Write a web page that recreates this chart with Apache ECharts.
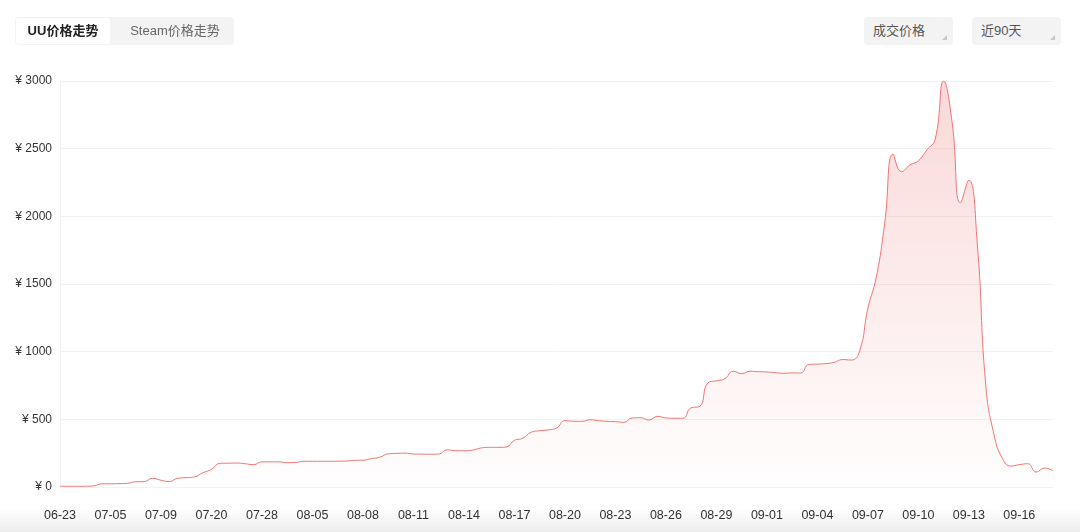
<!DOCTYPE html>
<html><head><meta charset="utf-8">
<script src="https://cdn.jsdelivr.net/npm/echarts@6/dist/echarts.min.js"></script>
<style>
html,body{margin:0;padding:0;background:#fff;width:1080px;height:532px;overflow:hidden;font-family:"Liberation Sans","Noto Sans CJK SC",sans-serif;}
#chart{position:absolute;left:0;top:0;width:1080px;height:532px;}
.tabs{position:absolute;left:15px;top:17px;width:219px;height:28px;background:#f3f3f4;border-radius:4px;}
.tab{position:absolute;top:1px;height:26px;line-height:26px;font-size:13px;text-align:center;}
.tab.on{left:1px;width:94px;background:#fff;border-radius:3px;color:#222;font-weight:bold;}
.tab.off{left:100px;width:120px;color:#666;}
.sel{position:absolute;top:17px;height:28px;line-height:28px;width:89px;background:#f3f3f4;border-radius:4px;font-size:13px;color:#555;box-sizing:border-box;padding-left:9px;}
.sel:after{content:"";position:absolute;right:6px;bottom:5px;width:0;height:0;border-left:5px solid transparent;border-bottom:5px solid #c8c8c8;}
.shade{position:absolute;left:0;top:508px;width:1080px;height:24px;background:linear-gradient(to bottom,rgba(0,0,0,0),rgba(0,0,0,0.07));pointer-events:none;}
</style></head>
<body>
<div id="chart"></div>
<div class="shade"></div>
<div class="tabs"><div class="tab on">UU价格走势</div><div class="tab off">Steam价格走势</div></div>
<div class="sel" style="left:864px">成交价格</div>
<div class="sel" style="left:972px">近90天</div>
<script>
// one entry per sampled day (labels shown every third day)
const dates = ["06-23","06-27","07-01","07-05","07-06","07-08","07-09","07-12","07-16","07-20",
"07-23","07-26","07-28","07-31","08-02","08-05","08-06","08-07","08-08","08-09",
"08-10","08-11","08-12","08-13","08-14","08-15","08-16","08-17","08-18","08-19",
"08-20","08-21","08-22","08-23","08-24","08-25","08-26","08-27","08-28","08-29",
"08-30","08-31","09-01","09-02","09-03","09-04","09-05","09-06","09-07","09-08",
"09-09","09-10","09-11","09-12","09-13","09-14","09-15","09-16","09-17","09-18"];
// price readings, two per day (00:00 and 12:00)
const prices = [5,5,5,6,8,24,24,25,27,39,
40,64,50,40,65,69,75,106,130,175,
176,177,172,165,186,186,186,180,182,190,
190,190,190,191,192,197,198,210,220,245,
248,250,244,243,242,243,275,268,268,272,
288,293,293,295,345,360,405,416,422,435,
490,486,485,497,490,485,483,478,510,512,
495,522,510,508,508,585,595,770,785,800,
855,838,855,852,850,845,840,843,842,906,
908,912,921,942,938,1000,1320,1550,1950,2460,
2330,2380,2410,2490,2570,3000,2700,2100,2268,1800,
760,385,210,155,165,172,110,140,120];
const yTicks = [0,500,1000,1500,2000,2500,3000];

const cats = [];
dates.forEach((d,i)=>{ cats.push(d); if(i<dates.length-1) cats.push(d+" 12:00"); });

const chart = echarts.init(document.getElementById('chart'), null, {renderer:'canvas'});
const lf = '"Liberation Sans","Noto Sans CJK SC",sans-serif';
chart.setOption({
  animation:false,
  grid:{left:60,right:27,top:81,bottom:45},
  xAxis:{type:'category',data:cats,boundaryGap:false,
    axisLine:{show:true,lineStyle:{color:'#f2f2f2'}},axisTick:{show:false},
    axisLabel:{interval:5,color:'#333',fontSize:12.5,margin:22,fontFamily:lf},
    splitLine:{show:false}},
  yAxis:{type:'value',min:yTicks[0],max:yTicks[yTicks.length-1],interval:500,
    axisLine:{show:true,lineStyle:{color:'#f2f2f2'}},axisTick:{show:false},
    axisLabel:{formatter:v=>'¥ '+v,color:'#333',fontSize:12,margin:8,fontFamily:lf},
    splitLine:{lineStyle:{color:'#f2f2f2'}}},
  series:[{type:'line',data:prices,smooth:true,symbol:'none',
    lineStyle:{color:'#ee7474',width:1},
    areaStyle:{color:new echarts.graphic.LinearGradient(0,0,0,1,[
      {offset:0,color:'rgba(236,110,110,0.38)'},
      {offset:1,color:'rgba(236,110,110,0.01)'}])}}]
});
</script>
</body></html>
